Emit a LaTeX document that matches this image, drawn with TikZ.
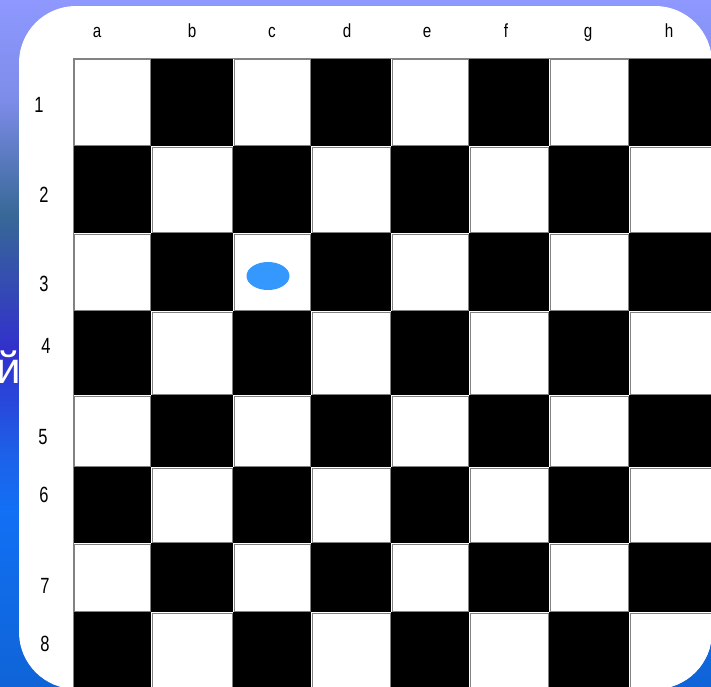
\documentclass[tikz,border=0pt]{standalone}
\usepackage{fontspec}
\setmainfont{Liberation Sans}
\usetikzlibrary{shapes.geometric}
\definecolor{bgA}{RGB}{142,152,255}
\definecolor{bgB}{RGB}{125,140,232}
\definecolor{bgC}{RGB}{55,104,150}
\definecolor{bgD}{RGB}{50,48,205}
\definecolor{bgE}{RGB}{30,95,232}
\definecolor{bgF}{RGB}{18,112,244}
\definecolor{bgG}{RGB}{15,100,215}
\definecolor{ballblue}{RGB}{52,152,255}
\definecolor{cellline}{RGB}{130,130,130}
\begin{document}
\begin{tikzpicture}[x=1pt,y=-1pt,
  collbl/.style={font=\fontsize{19}{19}\selectfont, anchor=base, inner sep=0pt},
  rowlbl/.style={font=\fontsize{22}{22}\selectfont, anchor=base, inner sep=0pt},
  blackcell/.style={fill=black},
  whitecell/.style={fill=white, draw=cellline, line width=0.8pt},
  boardline/.style={draw=cellline, line width=1pt},
  card/.style={rounded corners=57pt}
]
\useasboundingbox (0,0) rectangle (711,686);
% background gradient
\shade[top color=bgA, bottom color=bgB] (0,0) rectangle (711,101);
\shade[top color=bgB, bottom color=bgC] (0,100) rectangle (711,216);
\shade[top color=bgC, bottom color=bgD] (0,215) rectangle (711,351);
\shade[top color=bgD, bottom color=bgE] (0,350) rectangle (711,451);
\shade[top color=bgE, bottom color=bgF] (0,450) rectangle (711,511);
\shade[top color=bgF, bottom color=bgG] (0,510) rectangle (711,686);
% partly hidden title letter
\node[font=\fontsize{44}{44}\selectfont, text=white, anchor=base east, inner sep=0pt] (cyr) at (21,383) {й};
% white card
\fill[white, card] (19,6) rectangle (712,689);
\begin{scope}
\clip[card] (19,6) rectangle (712,689);
\def\colX{{73,151,233,311,391,469,549,629,716}}
\def\rowY{{58,146,233,311,395,467,543,612,695}}
\foreach \i in {0,...,7}{
  \foreach \j in {0,...,7}{
    \pgfmathsetmacro\xa{\colX[\i]}
    \pgfmathsetmacro\xb{\colX[\i+1]}
    \pgfmathsetmacro\ya{\rowY[\j]}
    \pgfmathsetmacro\yb{\rowY[\j+1]}
    \pgfmathtruncatemacro\cellpar{mod(\i+\j,2)}
    \ifnum\cellpar=1
      \fill[blackcell] (\xa,\ya) rectangle (\xb,\yb);
    \fi
  }
}
\foreach \i in {0,...,7}{
  \foreach \j in {0,...,7}{
    \pgfmathsetmacro\xa{\colX[\i]}
    \pgfmathsetmacro\xb{\colX[\i+1]}
    \pgfmathsetmacro\ya{\rowY[\j]}
    \pgfmathsetmacro\yb{\rowY[\j+1]}
    \pgfmathtruncatemacro\cellpar{mod(\i+\j,2)}
    \ifnum\cellpar=0
      \filldraw[whitecell] (\xa+1,\ya+1) rectangle (\xb-1,\yb-1);
    \fi
  }
}
\draw[boardline] (73,58) -- (716,58);
\draw[boardline] (73,58) -- (73,695);
\end{scope}
% piece
\node[ellipse, fill=ballblue, minimum width=43pt, minimum height=28pt, inner sep=0pt] (piece) at (268,276) {};
% column labels
\node[collbl] (la) at (97,37) {\scalebox{0.8}[1]{a}};
\node[collbl] (lb) at (192,37) {\scalebox{0.8}[1]{b}};
\node[collbl] (lc) at (272,37) {\scalebox{0.8}[1]{c}};
\node[collbl] (ld) at (347,37) {\scalebox{0.8}[1]{d}};
\node[collbl] (le) at (427,37) {\scalebox{0.8}[1]{e}};
\node[collbl] (lf) at (506,37) {\scalebox{0.8}[1]{f}};
\node[collbl] (lg) at (588,37) {\scalebox{0.8}[1]{g}};
\node[collbl] (lh) at (669,37) {\scalebox{0.8}[1]{h}};
% row labels
\node[rowlbl] (r1) at (39,112) {\scalebox{0.75}[1]{1}};
\node[rowlbl] (r2) at (44,202) {\scalebox{0.75}[1]{2}};
\node[rowlbl] (r3) at (44,291) {\scalebox{0.75}[1]{3}};
\node[rowlbl] (r4) at (46,353) {\scalebox{0.75}[1]{4}};
\node[rowlbl] (r5) at (43,444) {\scalebox{0.75}[1]{5}};
\node[rowlbl] (r6) at (44,502) {\scalebox{0.75}[1]{6}};
\node[rowlbl] (r7) at (45,593) {\scalebox{0.75}[1]{7}};
\node[rowlbl] (r8) at (45,651) {\scalebox{0.75}[1]{8}};
\end{tikzpicture}
\end{document}
